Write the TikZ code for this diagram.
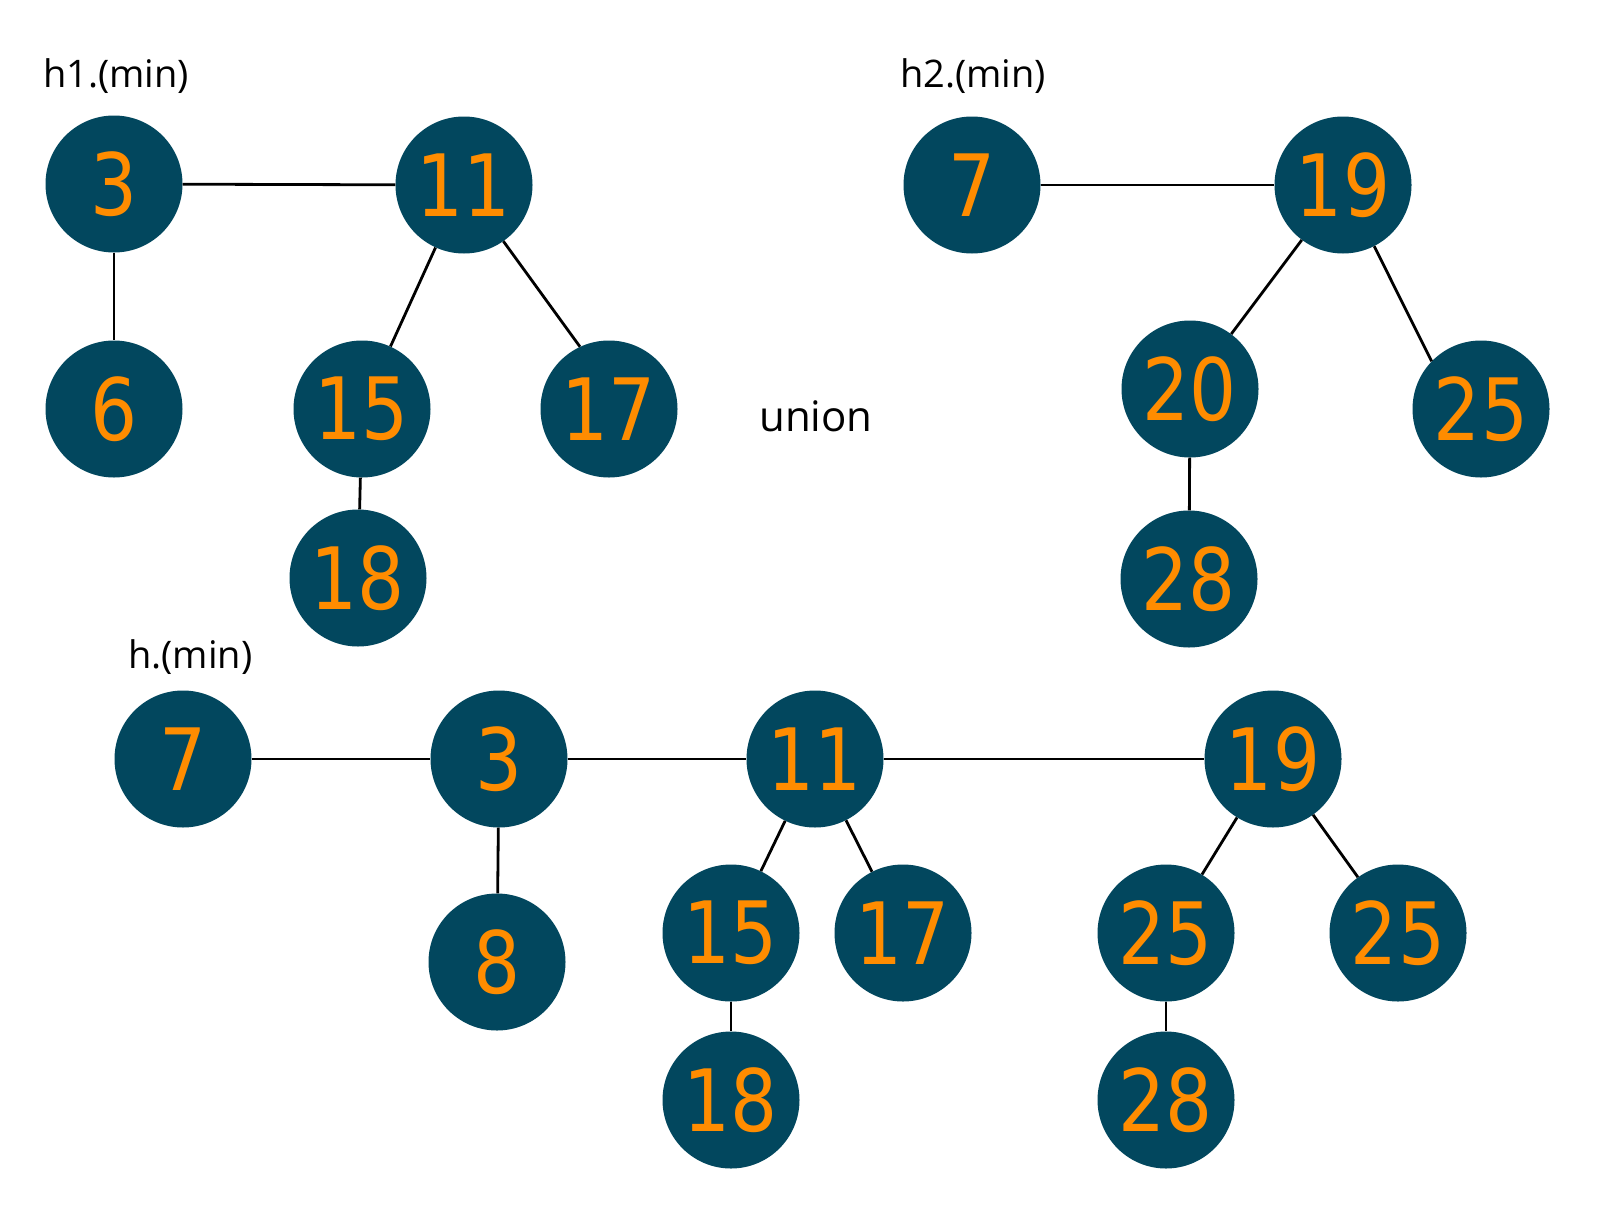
\documentclass[tikz,border=0pt]{standalone}
\usepackage{fontspec}
\usepackage{graphicx}
\setmainfont{Open Sans}
\newfontfamily\digitfont{DejaVu Sans}
\definecolor{heapfill}{HTML}{02475E}
\definecolor{heapnum}{HTML}{FF8C00}
\tikzset{
  heapnode/.style={circle, fill=heapfill, minimum size=137pt, inner sep=0pt,
    text=heapnum, font=\digitfont\fontsize{86}{86}\selectfont},
  heaplabel/.style={font=\fontsize{38}{40}\selectfont, text=black, inner sep=0pt},
  heapedge/.style={draw=black, line width=2.8pt}
}
\newcommand{\num}[1]{\scalebox{0.86}[1]{#1}}
\begin{document}
\begin{tikzpicture}[x=1pt,y=-1pt]
\useasboundingbox[fill=white] (0,0) rectangle (1600,1218);
% labels
\node[heaplabel, anchor=west] (lh1) at (43,76) {h1.(min)};
\node[heaplabel, anchor=west] (lh2) at (900,76) {h2.(min)};
\node[heaplabel, anchor=west] (lh) at (128,657) {h.(min)};
\node[heaplabel, font=\fontsize{42}{44}\selectfont] (un) at (816,416) {union};
% h1
\node[heapnode] (a3) at (114,184) {\num{3}};
\node[heapnode] (a11) at (464,185) {\num{11}};
\node[heapnode] (a6) at (114,409) {\num{6}};
\node[heapnode] (a15) at (362,409) {\num{15}};
\node[heapnode] (a17) at (609,409) {\num{17}};
\node[heapnode] (a18) at (358,578) {\num{18}};
% h2
\node[heapnode] (b7) at (972,185) {\num{7}};
\node[heapnode] (b19) at (1343,185) {\num{19}};
\node[heapnode] (b20) at (1190,389) {\num{20}};
\node[heapnode] (b25) at (1481,409) {\num{25}};
\node[heapnode] (b28) at (1189,579) {\num{28}};
% h
\node[heapnode] (c7) at (183,759) {\num{7}};
\node[heapnode] (c3) at (499,759) {\num{3}};
\node[heapnode] (c11) at (815,759) {\num{11}};
\node[heapnode] (c19) at (1273,759) {\num{19}};
\node[heapnode] (c8) at (497,962) {\num{8}};
\node[heapnode] (c15) at (731,933) {\num{15}};
\node[heapnode] (c17) at (903,933) {\num{17}};
\node[heapnode] (c25a) at (1166,933) {\num{25}};
\node[heapnode] (c25b) at (1398,933) {\num{25}};
\node[heapnode] (c18) at (731,1100) {\num{18}};
\node[heapnode] (c28) at (1166,1100) {\num{28}};
% edges
\draw[heapedge] (a3) -- (a11);
\draw[heapedge] (a3) -- (a6);
\draw[heapedge] (a11) -- (a15);
\draw[heapedge] (a11.-55) -- (a17.115);
\draw[heapedge] (a15) -- (a18);
\draw[heapedge] (b7) -- (b19);
\draw[heapedge] (b19) -- (b20);
\draw[heapedge] (b19.-63) -- (b25.136);
\draw[heapedge] (b20) -- (b28);
\draw[heapedge] (c7) -- (c3);
\draw[heapedge] (c3) -- (c11);
\draw[heapedge] (c11) -- (c19);
\draw[heapedge] (c3) -- (c8);
\draw[heapedge] (c11) -- (c15);
\draw[heapedge] (c11) -- (c17);
\draw[heapedge] (c15) -- (c18);
\draw[heapedge] (c19) -- (c25a);
\draw[heapedge] (c19) -- (c25b);
\draw[heapedge] (c25a) -- (c28);
\end{tikzpicture}
\end{document}
